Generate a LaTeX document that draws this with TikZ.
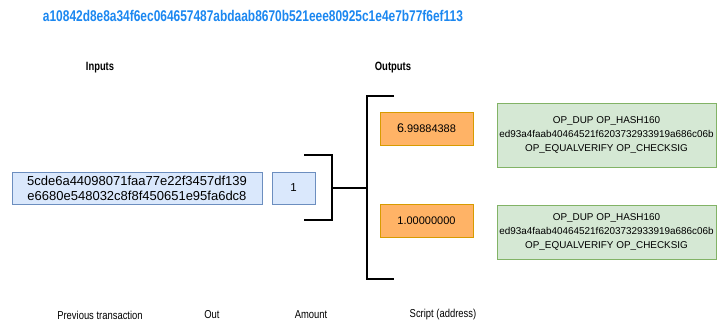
\documentclass[tikz,border=0pt]{standalone}
\usepackage{fontspec}
\setmainfont{Liberation Sans}
\definecolor{titleblue}{HTML}{1B87F0}
\definecolor{inFill}{HTML}{DAE8FC}
\definecolor{inLine}{HTML}{6C8EBF}
\definecolor{amtFill}{HTML}{FFB366}
\definecolor{amtLine}{HTML}{D79B00}
\definecolor{scrFill}{HTML}{D5E8D4}
\definecolor{scrLine}{HTML}{82B366}
\tikzset{
  inbox/.style={draw=inLine, fill=inFill, line width=0.8pt, inner sep=0pt, align=center},
  amtbox/.style={draw=amtLine, fill=amtFill, line width=0.8pt, inner sep=0pt, align=center, font=\fontsize{11}{13}\selectfont},
  scrbox/.style={draw=scrLine, fill=scrFill, line width=0.8pt, inner sep=0pt, align=center, font=\fontsize{9.9}{14}\selectfont},
  heading/.style={font=\bfseries\fontsize{12}{14}\selectfont},
  caption/.style={font=\fontsize{11.5}{13}\selectfont},
  brace/.style={line width=1.8pt}
}
\begin{document}
\begin{tikzpicture}[x=1pt,y=-1pt]
\useasboundingbox (0,0) rectangle (717,325);

% transaction id
\node[text=titleblue, font=\bfseries\fontsize{15.5}{17}\selectfont] (txid) at (253,16)
  {\scalebox{0.77}[1]{a10842d8e8a34f6ec064657487abdaab8670b521eee80925c1e4e7b77f6ef113}};

\node[heading] (inputs) at (100,68) {\scalebox{0.78}[1]{Inputs}};
\node[heading] (outputs) at (393,68) {\scalebox{0.79}[1]{Outputs}};

% input side
\node[inbox, minimum width=250pt, minimum height=32pt, font=\fontsize{13}{15}\selectfont] (prev) at (137,188)
  {5cde6a44098071faa77e22f3457df139\\e6680e548032c8f8f450651e95fa6dc8};
\node[inbox, minimum width=43pt, minimum height=32pt, font=\fontsize{11.5}{13}\selectfont] (vout) at (293.5,188) {1};

% output side
\node[amtbox, minimum width=93pt, minimum height=33pt] (amt1) at (426.5,128.5)
  {{\fontsize{12.5}{13}\selectfont 6}.99884388};
\node[scrbox, minimum width=219pt, minimum height=64pt] (scr1) at (606.5,135)
  {OP\_DUP OP\_HASH160\\ed93a4faab40464521f6203732933919a686c06b\\OP\_EQUALVERIFY OP\_CHECKSIG};
\node[amtbox, minimum width=93pt, minimum height=33pt] (amt2) at (426.5,220.5) {1.00000000};
\node[scrbox, minimum width=219pt, minimum height=54pt] (scr2) at (606.5,232)
  {OP\_DUP OP\_HASH160\\ed93a4faab40464521f6203732933919a686c06b\\OP\_EQUALVERIFY OP\_CHECKSIG};

% brackets joining the input to the outputs
\coordinate (b1top) at (304,155);
\coordinate (b1bot) at (304,220);
\coordinate (b1mid) at (332,188);
\coordinate (b2top) at (394,96);
\coordinate (b2bot) at (394,279);
\coordinate (b2mid) at (367,188);
\draw[brace] (b1top) -| (b1mid |- b1bot) -- (b1bot);
\draw[brace] (b2top) -| (b2mid |- b2bot) -- (b2bot);
\draw[brace] (b1mid) -- (b2mid);

% column captions
\node[caption] (capPrev) at (100,315) {\scalebox{0.82}[1]{Previous transaction}};
\node[caption] (capOut) at (212,315) {\scalebox{0.82}[1]{Out}};
\node[caption] (capAmt) at (311,315) {\scalebox{0.82}[1]{Amount}};
\node[caption] (capScr) at (443,315) {\scalebox{0.82}[1]{Script (address)}};
\end{tikzpicture}
\end{document}
